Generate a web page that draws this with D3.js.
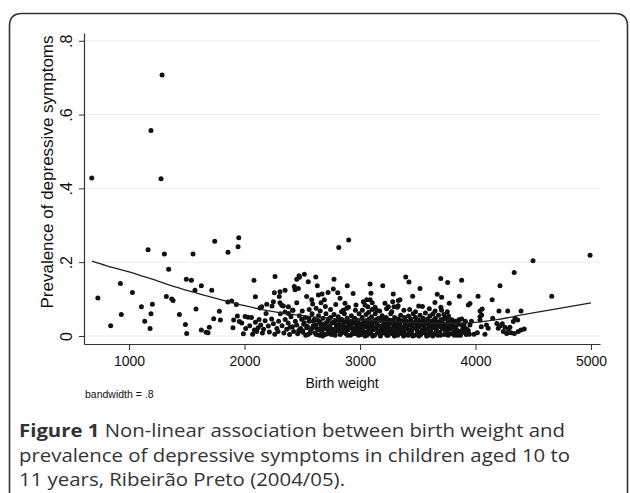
<!DOCTYPE html>
<html><head><meta charset="utf-8">
<script src="https://cdn.jsdelivr.net/npm/d3@7"></script>
<style>
html,body{margin:0;padding:0;background:#fff;}
svg{display:block;}
</style></head>
<body>
<svg id="c" width="630" height="493"></svg>
<script>
// ---- data ----
const xTicks = [1000, 2000, 3000, 4000, 5000];
const yTicks = [0, 0.2, 0.4, 0.6, 0.8];
const xTitle = "Birth weight";
const yTitle = "Prevalence of depressive symptoms";
const noteText = "bandwidth = .8";
const captionBold = "Figure 1";
const captionLines = [
  " Non-linear association between birth weight and",
  "prevalence of depressive symptoms in children aged 10 to",
  "11 years, Ribeirão Preto (2004/05)."
];

// lowess curve
const curveWeight = [680, 800, 1000, 1200, 1400, 1600, 1800, 2000, 2200, 2400, 2600, 2800, 3000, 3200, 3400, 3600, 3800, 4000, 4200, 4400, 4600, 4800, 5000];
const curvePrev   = [0.203, 0.191, 0.174, 0.154, 0.133, 0.115, 0.098, 0.082, 0.069, 0.059, 0.052, 0.047, 0.043, 0.040, 0.037, 0.035, 0.034, 0.037, 0.045, 0.057, 0.068, 0.079, 0.090];

// scatter points [birth weight, prevalence]
const ptsOutliers = [[677,0.428],[1190,0.557],[1277,0.426],[1286,0.707],[730,0.103],[841,0.028],[925,0.142],[933,0.058],[1029,0.118],[1165,0.234],[1306,0.222],[1554,0.222],[1742,0.257],[1857,0.227],[1944,0.242],[1950,0.266],[2816,0.240],[2902,0.260],[4498,0.204],[4992,0.219]];

const ptsLow = [[1107,0.079],[1136,0.040],[1182,0.020],[1190,0.060],[1202,0.086],[1323,0.107],[1343,0.181],[1370,0.100],[1381,0.096],[1436,0.058],[1488,0.031],[1499,0.007],[1496,0.154],[1540,0.151],[1571,0.124],[1580,0.073],[1626,0.136],[1626,0.016],[1667,0.010],[1684,0.009],[1695,0.024],[1716,0.124],[1733,0.047],[1782,0.067],[1791,0.043],[1855,0.092],[1889,0.095],[1900,0.022],[1906,0.043],[1929,0.085],[1938,0.054],[1955,0.039],[1976,0.035],[1990,0.006]];

const ptsMid = [[2082,0.151],[2094,0.106],[2134,0.076],[2149,0.079],[2192,0.086],[2186,0.061],[2264,0.161],[2258,0.117],[2301,0.107],[2238,0.081],[2307,0.090],[2322,0.083],[2250,0.093],[2336,0.081],[2351,0.124],[2307,0.120],[2380,0.079],[2414,0.070],[2380,0.061],[2431,0.134],[2466,0.129],[2437,0.125],[2452,0.154],[2475,0.159],[2472,0.163],[2518,0.167],[2552,0.147],[2538,0.107],[2582,0.098],[2590,0.087],[2452,0.090],[2617,0.160],[2630,0.136],[2639,0.111],[2662,0.090],[2691,0.098],[2671,0.114],[2723,0.118],[2769,0.127],[2775,0.154],[2807,0.117],[2827,0.102],[2855,0.070],[2870,0.089],[2885,0.075],[2890,0.136],[2940,0.115],[2965,0.084],[3029,0.093],[3043,0.084],[3058,0.098],[3067,0.079],[3087,0.141],[3095,0.116],[3087,0.098],[3106,0.090],[3106,0.072],[3145,0.070],[3197,0.136],[3216,0.089],[3245,0.079],[3288,0.114],[3283,0.093],[3332,0.096],[3294,0.079],[3323,0.078],[3346,0.098],[3396,0.160],[3424,0.146],[3456,0.108],[3508,0.081],[3519,0.129],[3649,0.091],[3669,0.113],[3699,0.156],[3707,0.105],[3756,0.066],[3759,0.145],[3773,0.089],[3860,0.108],[3880,0.151],[3938,0.084],[3952,0.088],[4022,0.108],[4039,0.068],[4058,0.073],[4144,0.098],[4203,0.068],[4212,0.136],[4279,0.068],[4335,0.172],[4394,0.068],[4660,0.108]];

const ptsBand2000 = [[2005,0.053],[2030,0.051],[2060,0.050],[2094,0.037],[2085,0.016],[2105,0.012],[2045,0.028],[2010,0.020],[2070,0.005],[2126,0.045],[2118,0.022],[2140,0.030],[2155,0.008],[2178,0.041],[2165,0.018],[2206,0.027],[2215,0.011],[2235,0.046],[2250,0.033],[2262,0.005],[2280,0.020],[2295,0.040],[2290,0.012],[2310,0.060],[2325,0.028],[2340,0.008],[2352,0.045],[2365,0.018],[2378,0.035],[2390,0.004],[2402,0.052],[2415,0.025],[2425,0.012],[2440,0.040],[2452,0.030],[2460,0.006],[2475,0.055],[2485,0.020],[2495,0.045],[2505,0.010],[2512,0.032],[2525,0.050],[2538,0.022],[2548,0.004],[2560,0.040],[2572,0.014],[2585,0.060],[2595,0.028],[2350,0.065],[2420,0.070],[2500,0.068],[2560,0.072],[2395,0.024],[2470,0.015]];

const ptsBand2600 = [[2605,0.045],[2612,0.008],[2620,0.030],[2633,0.018],[2640,0.055],[2648,0.002],[2655,0.038],[2665,0.024],[2672,0.010],[2680,0.048],[2690,0.032],[2698,0.004],[2705,0.060],[2712,0.020],[2720,0.040],[2728,0.012],[2735,0.028],[2745,0.050],[2752,0.004],[2760,0.035],[2768,0.018],[2775,0.058],[2782,0.008],[2790,0.042],[2798,0.026],[2805,0.014],[2812,0.052],[2820,0.032],[2828,0.004],[2835,0.020],[2842,0.045],[2850,0.010],[2858,0.036],[2865,0.060],[2872,0.024],[2880,0.006],[2888,0.048],[2895,0.016],[2902,0.030],[2910,0.040],[2918,0.002],[2925,0.055],[2932,0.022],[2940,0.012],[2948,0.035],[2955,0.048],[2962,0.006],[2970,0.028],[2978,0.016],[2985,0.042],[2992,0.060],[2998,0.010],[2620,0.075],[2655,0.068],[2700,0.080],[2745,0.072],[2790,0.085],[2840,0.066],[2900,0.078],[2960,0.070]];

const ptsBand3000 = [[3005,0.032],[3012,0.004],[3018,0.050],[3025,0.018],[3032,0.040],[3040,0.010],[3046,0.026],[3052,0.058],[3060,0.002],[3066,0.036],[3072,0.014],[3080,0.046],[3086,0.024],[3092,0.006],[3100,0.052],[3106,0.030],[3112,0.016],[3120,0.040],[3126,0.002],[3132,0.060],[3140,0.022],[3146,0.034],[3152,0.010],[3160,0.048],[3166,0.028],[3172,0.004],[3180,0.042],[3186,0.016],[3192,0.055],[3200,0.030],[3206,0.008],[3212,0.038],[3220,0.020],[3226,0.050],[3232,0.002],[3240,0.026],[3246,0.044],[3252,0.012],[3260,0.034],[3266,0.060],[3272,0.018],[3280,0.006],[3286,0.040],[3292,0.028],[3300,0.050],[3306,0.010],[3312,0.022],[3320,0.036],[3326,0.002],[3332,0.046],[3340,0.016],[3346,0.030],[3352,0.056],[3360,0.008],[3366,0.040],[3372,0.024],[3380,0.012],[3386,0.050],[3392,0.032],[3398,0.004],[3020,0.070],[3075,0.064],[3130,0.078],[3170,0.068],[3230,0.074],[3275,0.066],[3330,0.082],[3380,0.070]];

const ptsBand3400 = [[3405,0.040],[3412,0.018],[3420,0.054],[3426,0.006],[3432,0.030],[3440,0.046],[3446,0.012],[3452,0.024],[3460,0.060],[3466,0.036],[3472,0.002],[3480,0.050],[3486,0.020],[3492,0.032],[3500,0.010],[3506,0.044],[3512,0.026],[3520,0.056],[3526,0.004],[3532,0.038],[3540,0.016],[3546,0.048],[3552,0.028],[3560,0.008],[3566,0.062],[3572,0.034],[3580,0.018],[3586,0.046],[3592,0.002],[3600,0.026],[3606,0.054],[3612,0.012],[3620,0.040],[3626,0.022],[3632,0.060],[3640,0.006],[3646,0.032],[3652,0.048],[3660,0.016],[3666,0.038],[3672,0.002],[3680,0.056],[3686,0.026],[3692,0.010],[3700,0.044],[3706,0.070],[3712,0.020],[3720,0.034],[3726,0.058],[3732,0.004],[3740,0.048],[3746,0.026],[3752,0.012],[3760,0.038],[3766,0.054],[3772,0.018],[3780,0.030],[3788,0.006],[3795,0.044],[3430,0.072],[3480,0.066],[3540,0.080],[3600,0.074],[3650,0.068],[3700,0.078]];

const ptsBand3800 = [[3805,0.024],[3815,0.010],[3825,0.040],[3835,0.016],[3845,0.002],[3855,0.032],[3866,0.012],[3880,0.046],[3890,0.020],[3900,0.030],[3909,0.021],[3920,0.004],[3938,0.014],[3947,0.005],[3952,0.030],[3965,0.040],[3987,0.005],[4016,0.009],[4039,0.043],[4050,0.025],[4039,0.052],[4053,0.057],[4082,0.005],[4095,0.030],[4110,0.021],[4149,0.048],[4185,0.034],[4212,0.027],[4232,0.033],[4255,0.024],[4197,0.021],[4284,0.018],[4241,0.012],[4270,0.007],[4307,0.009],[4336,0.007],[4370,0.012],[4394,0.016],[4422,0.019],[4298,0.024],[4342,0.048],[4365,0.043],[4327,0.039]];

const ptsCore2500 = [[2503,0.014],[2517,0.036],[2530,0.002],[2544,0.026],[2557,0.048],[2569,0.008],[2582,0.020],[2596,0.040],[2608,0.024],[2622,0.004],[2637,0.042],[2650,0.016],[2662,0.030],[2676,0.000],[2688,0.020],[2702,0.034],[2716,0.006],[2730,0.046],[2742,0.022],[2756,0.012],[2770,0.038],[2784,0.002],[2796,0.030],[2810,0.020],[2824,0.044],[2838,0.008],[2852,0.026],[2866,0.014],[2878,0.038],[2892,0.002],[2906,0.022],[2920,0.032],[2934,0.006],[2946,0.044],[2960,0.018],[2974,0.036],[2988,0.002]];

const ptsCore3000 = [[3002,0.022],[3016,0.012],[3030,0.030],[3044,0.000],[3057,0.042],[3070,0.024],[3084,0.010],[3097,0.034],[3110,0.000],[3124,0.020],[3137,0.044],[3150,0.030],[3164,0.014],[3177,0.000],[3190,0.024],[3204,0.046],[3217,0.010],[3230,0.032],[3244,0.002],[3257,0.020],[3270,0.042],[3284,0.014],[3297,0.000],[3310,0.036],[3324,0.024],[3337,0.006],[3350,0.042],[3364,0.020],[3377,0.000],[3390,0.040],[3404,0.026],[3417,0.002],[3430,0.014],[3444,0.036],[3457,0.000],[3470,0.022],[3484,0.040],[3497,0.014]];

const ptsCore3500 = [[3510,0.000],[3523,0.030],[3537,0.012],[3550,0.040],[3563,0.020],[3577,0.000],[3590,0.034],[3603,0.010],[3617,0.028],[3630,0.000],[3643,0.044],[3657,0.024],[3670,0.012],[3683,0.036],[3697,0.002],[3710,0.028],[3723,0.046],[3737,0.016],[3750,0.030],[3763,0.002],[3777,0.044],[3790,0.020],[3803,0.036],[3817,0.002],[3830,0.026],[3843,0.014],[3857,0.044],[3870,0.002],[3884,0.030],[3897,0.010],[3912,0.040],[3926,0.018]];

// ---- drawing ----
const svg = d3.select("#c");
const FONT = "'Liberation Sans', Arial, Helvetica, sans-serif";

// frame
svg.append("path")
  .attr("d", "M9.5,493 L9.5,26 Q9.5,13.5 22,13.5 L615,13.5 Q627.5,13.5 627.5,26 L627.5,493")
  .attr("fill", "none").attr("stroke", "#333").attr("stroke-width", 1.6);

const x = d3.scaleLinear().domain([610, 5078]).range([84, 600]);
const y = d3.scaleLinear().domain([-0.0217, 0.821]).range([344, 33]);

// gridlines
svg.append("g").selectAll("line").data(yTicks).join("line")
  .attr("x1", 85).attr("x2", 600)
  .attr("y1", d => y(d)).attr("y2", d => y(d))
  .attr("stroke", "#ececec").attr("stroke-width", 1);

// axes
const yAxis = svg.append("g").attr("transform", "translate(84,0)")
  .call(d3.axisLeft(y).tickValues(yTicks).tickSize(5).tickSizeOuter(0)
        .tickFormat(d => d === 0 ? "0" : d3.format(".1f")(d).replace(/^0/, "")));
yAxis.selectAll("text")
  .attr("transform", "rotate(-90)")
  .attr("x", 0).attr("y", -12).attr("dy", 0)
  .attr("text-anchor", "middle")
  .attr("font-family", FONT).attr("font-size", 16).attr("fill", "#111");

const xAxis = svg.append("g").attr("transform", "translate(0,344)")
  .call(d3.axisBottom(x).tickValues(xTicks).tickSize(6).tickSizeOuter(0)
        .tickFormat(d3.format("d")));
xAxis.selectAll("text")
  .attr("y", 12).attr("dy", "0.71em")
  .attr("font-family", FONT).attr("font-size", 14).attr("fill", "#111");
svg.selectAll(".domain").attr("stroke", "#333").attr("stroke-width", 1.2);
svg.selectAll(".tick line").attr("stroke", "#333").attr("stroke-width", 1);

// axis titles
svg.append("text").attr("transform", "translate(53,172) rotate(-90)")
  .attr("text-anchor", "middle").attr("font-family", FONT).attr("font-size", 17)
  .attr("fill", "#111").text(yTitle);
svg.append("text").attr("x", 342).attr("y", 388)
  .attr("text-anchor", "middle").attr("font-family", FONT).attr("font-size", 14)
  .attr("fill", "#111").text(xTitle);
svg.append("text").attr("x", 85).attr("y", 398)
  .attr("font-family", FONT).attr("font-size", 10.5)
  .attr("fill", "#111").text(noteText);

// points
const allPts = [].concat(ptsOutliers, ptsLow, ptsMid, ptsBand2000, ptsBand2600, ptsBand3000, ptsBand3400, ptsBand3800, ptsCore2500, ptsCore3000, ptsCore3500);
svg.append("g").selectAll("circle").data(allPts).join("circle")
  .attr("cx", d => x(d[0])).attr("cy", d => y(d[1]))
  .attr("r", 2.5).attr("fill", "#111");

// lowess line
const curve = curveWeight.map((w, i) => [w, curvePrev[i]]);
svg.append("path").datum(curve)
  .attr("d", d3.line().x(d => x(d[0])).y(d => y(d[1])).curve(d3.curveMonotoneX))
  .attr("fill", "none").attr("stroke", "#222").attr("stroke-width", 1.3);

// caption
const CAP = "'Open Sans', 'Noto Sans', sans-serif";
const capWidths = [546, 551, 326];
const capY = [437, 462, 486];
captionLines.forEach((line, i) => {
  const t = svg.append("text").attr("x", 19).attr("y", capY[i])
    .attr("font-family", CAP).attr("font-size", 18.5).attr("fill", "#333");
  if (i === 0) t.append("tspan").attr("font-weight", "bold").text(captionBold);
  t.append("tspan").text(line);
  t.attr("textLength", capWidths[i]).attr("lengthAdjust", "spacingAndGlyphs");
});
</script>
</body></html>
